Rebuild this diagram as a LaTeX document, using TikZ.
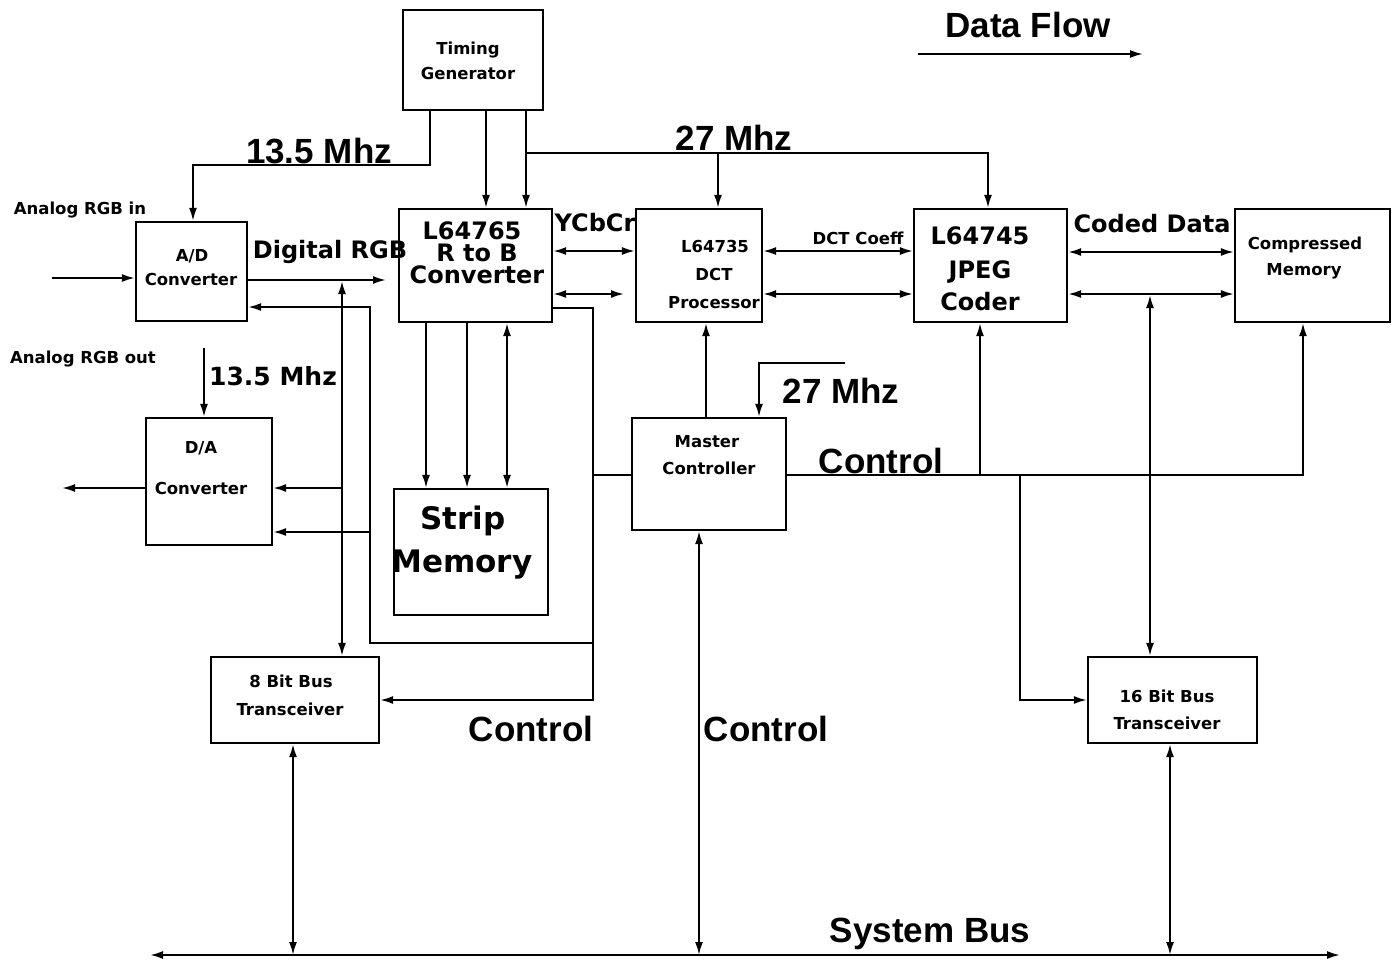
\documentclass[tikz,border=0pt]{standalone}
\usepackage{fontspec}
\setmainfont{Liberation Sans}
\newfontfamily\dvfont{DejaVu Sans}
\usetikzlibrary{arrows.meta}
\begin{document}
\begin{tikzpicture}[x=1pt,y=-1pt,
  box/.style={draw,line width=2.2pt,inner sep=0pt,rectangle},
  lbl/.style={anchor=base,inner sep=0pt},
  big/.style={lbl,font=\bfseries\fontsize{35}{35}\selectfont},
  med/.style={lbl,font=\dvfont\bfseries\fontsize{24}{24}\selectfont},
  mid/.style={lbl,font=\dvfont\bfseries\fontsize{24}{24}\selectfont},
  lrg/.style={lbl,font=\dvfont\bfseries\fontsize{31}{31}\selectfont},
  sml/.style={lbl,font=\dvfont\bfseries\fontsize{16.5}{16.5}\selectfont},
  wire/.style={line width=2pt},
  arr/.style={wire,-{Latex[length=13pt,width=8pt]}},
  dbl/.style={wire,{Latex[length=13pt,width=8pt]}-{Latex[length=13pt,width=8pt]}}]
\useasboundingbox (0,0) rectangle (1395,964);

% boxes
\node[box,minimum width=140,minimum height=100] (tg) at (473,60) {};
\node[box,minimum width=111,minimum height=99] (ad) at (191.5,271.5) {};
\node[box,minimum width=153,minimum height=113] (rb) at (475.5,265.5) {};
\node[box,minimum width=126,minimum height=113] (dct) at (699,265.5) {};
\node[box,minimum width=153,minimum height=113] (jpeg) at (990.5,265.5) {};
\node[box,minimum width=155,minimum height=113] (cm) at (1312.5,265.5) {};
\node[box,minimum width=126,minimum height=127] (da) at (209,481.5) {};
\node[box,minimum width=154,minimum height=126] (sm) at (471,552) {};
\node[box,minimum width=154,minimum height=112] (mc) at (709,474) {};
\node[box,minimum width=168,minimum height=86] (b8) at (295,700) {};
\node[box,minimum width=169,minimum height=86] (b16) at (1172.5,700) {};

% box texts
\node[sml] (tg1) at (468,54) {Timing};
\node[sml] (tg2) at (468,79) {Generator};
\node[sml] (ad1) at (192,261) {A/D};
\node[sml] (ad2) at (191,285) {Converter};
\node[mid] (rb1) at (472,239) {L64765};
\node[mid] (rb2) at (477,261.5) {R to B};
\node[mid] (rb3) at (477,283) {Converter};
\node[sml] (dc1) at (715,252) {L64735};
\node[sml] (dc2) at (714,280) {DCT};
\node[sml] (dc3) at (714,308) {Processor};
\node[mid] (jp1) at (980,244) {L64745};
\node[mid] (jp2) at (980,278) {JPEG};
\node[mid] (jp3) at (980,310) {Coder};
\node[sml] (cm1) at (1305,249) {Compressed};
\node[sml] (cm2) at (1304,275) {Memory};
\node[sml] (da1) at (201,453) {D/A};
\node[sml] (da2) at (201,494) {Converter};
\node[lrg] (sm1) at (463,529) {Strip};
\node[lrg] (sm2) at (462,572) {Memory};
\node[sml] (mc1) at (707,447) {Master};
\node[sml] (mc2) at (709,474) {Controller};
\node[sml] (b81) at (291,687) {8 Bit Bus};
\node[sml] (b82) at (290,715) {Transceiver};
\node[sml] (b161) at (1167,702) {16 Bit Bus};
\node[sml] (b162) at (1167,729) {Transceiver};

% free labels
\node[big] (lDF) at (1028,37) {Data Flow};
\node[big] (l135a) at (319,163) {13.5 Mhz};
\node[big] (l27a) at (734,150) {27 Mhz};
\node[sml] (lin) at (80,214) {Analog RGB in};
\node[med] (ldrgb) at (330,258) {Digital RGB};
\node[med] (lycc) at (595,231) {YCbCr};
\node[sml] (ldct) at (858,244) {DCT Coeff};
\node[med] (lcd) at (1152,232) {Coded Data};
\node[sml] (lout) at (83,363) {Analog RGB out};
\node[lbl,font=\dvfont\bfseries\fontsize{25}{25}\selectfont] (l135b) at (273,385) {13.5 Mhz};
\node[big] (l27b) at (841,403) {27 Mhz};
\node[big] (lc1) at (881,473) {Control};
\node[big] (lc2) at (531,741) {Control};
\node[big] (lc3) at (766,741) {Control};
\node[big] (lsb) at (930,942) {System Bus};

% free ends / junctions
\coordinate (dfA) at (918,54);
\coordinate (dfB) at (1143,54);
\coordinate (inA) at (52,278);
\coordinate (outA) at (62,488);
\coordinate (drgb) at (386,280);
\coordinate (j27) at (526,153);
\coordinate (j27d) at (718,153);
\coordinate (clkda) at (204,348);
\coordinate (clkmc) at (845,363);
\coordinate (busL) at (150,955);
\coordinate (busR) at (1340,955);

% data flow arrow
\draw[arr] (dfA) -- (dfB);

% timing
\draw[arr] (tg.south -| 430,0) -- (430,165) -| (ad.north -| 193,0);
\draw[arr] (tg.south -| 486,0) -- (rb.north -| 486,0);
\draw[arr] (tg.south -| 526,0) -- (rb.north -| 526,0);
\draw[arr] (j27) -| (jpeg.north -| 988,0);
\draw[arr] (j27d) -- (dct.north -| 718,0);

% A/D
\draw[arr] (inA) -- (ad.west |- 0,278);
\draw[arr] (ad.east |- 0,280) -- (drgb);
\draw[dbl] (342,281) -- (b8.north -| 342,0);
\draw[arr] (342,488) -- (da.east |- 0,488);
\draw[arr] (593,643) -| (370,307) -- (ad.east |- 0,307);
\draw[arr] (370,532) -- (da.east |- 0,532);

% L64765 right side
\draw[arr] (rb.east |- 0,308) -| (593,700) -- (b8.east |- 0,700);
\draw[wire] (593,475) -- (mc.west |- 0,475);
\draw[dbl] (rb.east |- 0,251) -- (dct.west |- 0,251);
\draw[dbl] (rb.east |- 0,294) -- (624,294);

% strip memory
\draw[arr] (rb.south -| 426,0) -- (sm.north -| 426,0);
\draw[arr] (rb.south -| 467,0) -- (sm.north -| 467,0);
\draw[dbl] (rb.south -| 507,0) -- (sm.north -| 507,0);

% DCT / JPEG / compressed
\draw[dbl] (dct.east |- 0,251) -- (jpeg.west |- 0,251);
\draw[dbl] (dct.east |- 0,294) -- (jpeg.west |- 0,294);
\draw[dbl] (jpeg.east |- 0,252) -- (cm.west |- 0,252);
\draw[dbl] (jpeg.east |- 0,294) -- (cm.west |- 0,294);
\draw[dbl] (1150,295) -- (b16.north -| 1150,0);

% master controller
\draw[arr] (mc.north -| 706,0) -- (dct.south -| 706,0);
\draw[arr] (clkmc) -| (mc.north -| 759,0);
\draw[arr] (mc.east |- 0,475) -| (cm.south -| 1303,0);
\draw[arr] (980,475) -- (jpeg.south -| 980,0);
\draw[arr] (1020,475) |- (b16.west |- 0,700);

% D/A
\draw[arr] (da.west |- 0,488) -- (outA);
\draw[arr] (clkda) -- (da.north -| 204,0);

% system bus
\draw[dbl] (busL) -- (busR);
\draw[dbl] (b8.south -| 293,0) -- (293,955);
\draw[dbl] (mc.south -| 699,0) -- (699,955);
\draw[dbl] (b16.south -| 1170,0) -- (1170,955);
\end{tikzpicture}
\end{document}
